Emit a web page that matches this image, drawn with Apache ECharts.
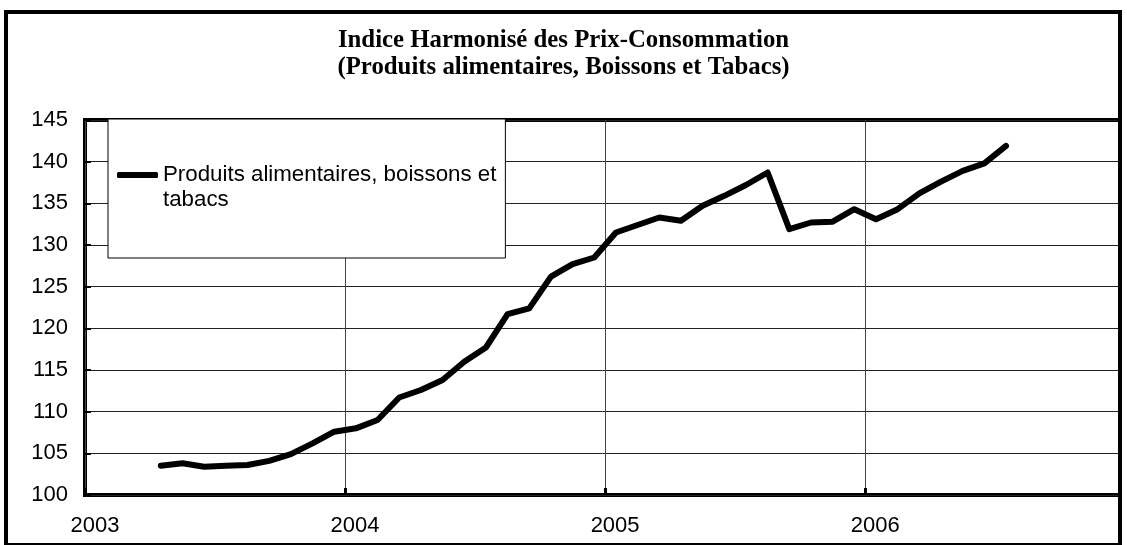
<!DOCTYPE html>
<html>
<head>
<meta charset="utf-8">
<script src="https://cdn.jsdelivr.net/npm/echarts@6/dist/echarts.min.js"></script>
<style>
  html, body { margin: 0; padding: 0; background: #fff; }
  #chart { width: 1127px; height: 545px; }
</style>
</head>
<body>
<div id="chart"></div>
<script>
// Title lines
const titleLines = [
  'Indice Harmonisé des Prix-Consommation',
  '(Produits alimentaires, Boissons et Tabacs)'
];

// Series name shown in the legend
const seriesName = 'Produits alimentaires, boissons et tabacs';

// Monthly observations (YYYY-MM)
const periods = [
  '2003-04', '2003-05', '2003-06', '2003-07', '2003-08', '2003-09', '2003-10', '2003-11', '2003-12',
  '2004-01', '2004-02', '2004-03', '2004-04', '2004-05', '2004-06', '2004-07', '2004-08', '2004-09', '2004-10', '2004-11', '2004-12',
  '2005-01', '2005-02', '2005-03', '2005-04', '2005-05', '2005-06', '2005-07', '2005-08', '2005-09', '2005-10', '2005-11', '2005-12',
  '2006-01', '2006-02', '2006-03', '2006-04', '2006-05', '2006-06', '2006-07'
];

// Index values for each month
const values = [
  103.5, 103.8, 103.4, 103.5, 103.6, 104.1, 104.9, 106.2, 107.6,
  108.0, 109.0, 111.7, 112.6, 113.8, 116.0, 117.7, 121.7, 122.4, 126.2, 127.7, 128.5,
  131.5, 132.4, 133.3, 132.9, 134.7, 135.9, 137.2, 138.7, 131.9, 132.7, 132.8, 134.3,
  133.1, 134.3, 136.2, 137.6, 138.9, 139.8, 141.9
];

// Year labels on the time axis (one per 12 months starting Jan 2003)
const yearLabels = ['2003', '2004', '2005', '2006'];

// Value axis range
const yMin = 100, yMax = 145, yStep = 5;

// Time axis expressed in months since January 2003
const baseYear = 2003;
const xMaxMonths = 47.76;

function monthPosition(period) {
  const parts = period.split('-').map(Number);
  return (parts[0] - baseYear) * 12 + (parts[1] - 1) + 0.5;
}

const seriesData = periods.map((p, i) => [monthPosition(p), values[i]]);

const chart = echarts.init(document.getElementById('chart'));

const sansFont = '"Liberation Sans", Arial, sans-serif';

chart.setOption({
  animation: false,
  backgroundColor: '#fff',
  title: {
    text: titleLines.join('\n'),
    left: 'center',
    top: 22,
    textStyle: {
      fontFamily: '"Liberation Serif", "Times New Roman", serif',
      fontWeight: 'bold',
      fontSize: 24.8,
      lineHeight: 27,
      color: '#000'
    }
  },
  graphic: [{
    type: 'rect',
    silent: true,
    z: 100,
    shape: { x: 6, y: 12, width: 1114, height: 533 },
    style: { fill: null, stroke: '#000', lineWidth: 4 }
  }],
  legend: {
    show: true,
    left: 108,
    top: 119,
    orient: 'vertical',
    padding: [18.5, 9, 45.5, 9],
    backgroundColor: '#fff',
    borderColor: '#000',
    borderWidth: 1,
    borderRadius: 0,
    itemWidth: 41,
    itemHeight: 6,
    data: [{ name: seriesName, icon: 'roundRect' }],
    itemStyle: { color: '#000' },
    // leading empty line keeps the first text line level with the key line;
    // the last word wraps onto its own line
    formatter: function (name) { return '\n' + name.replace(/ (\S+)$/, '\n$1'); },
    textStyle: {
      fontFamily: sansFont,
      fontSize: 22.3,
      lineHeight: 25,
      color: '#000'
    }
  },
  grid: {
    left: 85,
    top: 120,
    right: 7,
    bottom: 50,
    show: true,
    borderColor: '#000',
    borderWidth: 4,
    backgroundColor: 'transparent'
  },
  xAxis: {
    type: 'value',
    min: 0,
    max: xMaxMonths,
    interval: 12,
    axisLine: { show: false },
    axisTick: { show: true, inside: true, length: 7, lineStyle: { color: '#000', width: 3 } },
    splitLine: { show: true, lineStyle: { color: '#444', width: 1 } },
    axisLabel: {
      showMaxLabel: false,
      margin: 20,
      padding: [0, 0, 0, 20],
      fontFamily: sansFont,
      fontSize: 22,
      color: '#000',
      formatter: function (v) {
        const idx = Math.round(v / 12);
        return yearLabels[idx] !== undefined ? yearLabels[idx] : '';
      }
    }
  },
  yAxis: {
    type: 'value',
    min: yMin,
    max: yMax,
    interval: yStep,
    axisLine: { show: false },
    axisTick: { show: true, inside: true, length: 6, lineStyle: { color: '#000', width: 2 } },
    splitLine: { show: true, lineStyle: { color: '#222', width: 1 } },
    axisLabel: {
      margin: 17,
      fontFamily: sansFont,
      fontSize: 22,
      color: '#000'
    }
  },
  series: [{
    name: seriesName,
    type: 'line',
    data: seriesData,
    showSymbol: false,
    symbol: 'none',
    color: '#000',
    lineStyle: { color: '#000', width: 6, cap: 'round', join: 'round' },
    z: 3
  }]
});
</script>
</body>
</html>
